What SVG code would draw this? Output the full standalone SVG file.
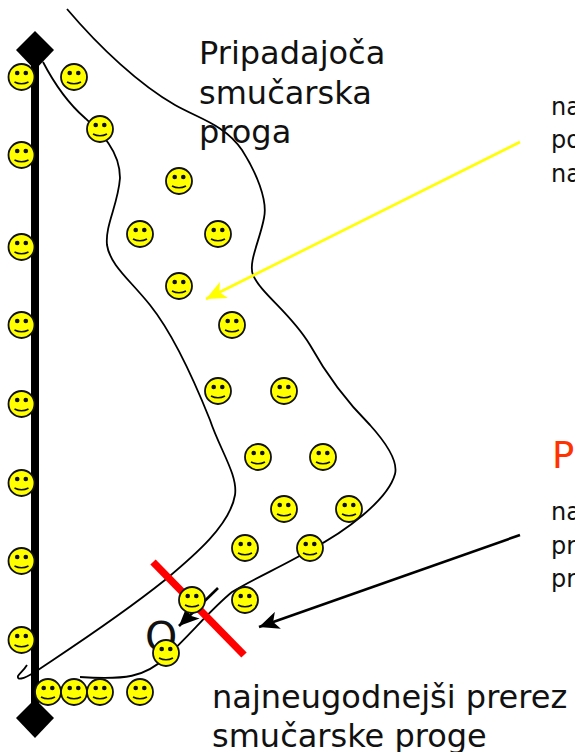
<svg xmlns="http://www.w3.org/2000/svg" xmlns:xlink="http://www.w3.org/1999/xlink" width="575" height="752" viewBox="0 0 575 752">
<style>
.t{font-family:"DejaVu Sans","Verdana",sans-serif;fill:#111}
.l{font-size:32px}
.s{font-size:24px}
.c{fill:none;stroke:#000;stroke-width:1.8}
</style>
<defs>
<g id="smile">
<circle r="13" fill="#ff0" stroke="#111" stroke-width="1.8"/>
<circle cx="-4.3" cy="-4" r="2.3" fill="#111"/>
<circle cx="4.3" cy="-4" r="2.3" fill="#111"/>
<path d="M-7 5Q0 8.5 7 5" fill="none" stroke="#111" stroke-width="1.6"/>
</g>
<marker id="ay" markerUnits="userSpaceOnUse" markerWidth="22" markerHeight="18" refX="20" refY="9" orient="auto"><path d="M0 0L20 9L0 18L5 9Z" fill="#ff0"/></marker>
<marker id="ab" markerUnits="userSpaceOnUse" markerWidth="22" markerHeight="18" refX="20" refY="9" orient="auto"><path d="M0 0L20 9L0 18L5 9Z" fill="#000"/></marker>
</defs>
<rect width="575" height="752" fill="#fff"/>
<g id="connectors">
<path class="c" d="M67 9C100 48 140 85 175 105C200 119 225 125 242 150C256 172 268 200 264 218C260 240 248 262 253 275C262 295 290 312 310 345C325 372 345 400 370 425C388 445 398 462 395 474C388 500 345 532 310 550C285 565 255 578 232 592C210 610 190 635 165 658C145 677 125 680 80 677"/>
<path class="c" d="M43 62C55 85 70 105 85 118C100 132 120 150 120 178C118 205 105 225 107 245C110 265 130 280 150 305C170 330 190 370 210 420C220 450 238 475 235 495C230 525 195 555 165 580C115 620 60 655 35 672C22 680 17 680 18 676C20 673 24 670 27 665"/>
<line x1="218" y1="588" x2="179" y2="626" stroke="#000" stroke-width="2.6" marker-end="url(#ab)"/>
<line x1="520" y1="142" x2="206" y2="299" stroke="#ff0" stroke-width="2.6" marker-end="url(#ay)"/>
<line x1="520" y1="535" x2="259" y2="627" stroke="#000" stroke-width="2.6" marker-end="url(#ab)"/>
</g>
<g id="lift">
<rect x="31" y="50" width="8" height="668" fill="#000"/>
<path d="M35 31L54 50L35 70L16 50Z" fill="#000"/>
<path d="M35 699L54 718L35 738L16 718Z" fill="#000"/>
</g>
<text class="t" x="145" y="651" font-size="41">O</text>
<line id="red-section" x1="153" y1="562" x2="244" y2="655" stroke="#f00" stroke-width="7.5"/>
<g id="skiers">
<use xlink:href="#smile" href="#smile" x="21.5" y="77"/>
<use xlink:href="#smile" href="#smile" x="21.5" y="155"/>
<use xlink:href="#smile" href="#smile" x="21.5" y="247"/>
<use xlink:href="#smile" href="#smile" x="21.5" y="325"/>
<use xlink:href="#smile" href="#smile" x="21.5" y="404"/>
<use xlink:href="#smile" href="#smile" x="21.5" y="483"/>
<use xlink:href="#smile" href="#smile" x="21.5" y="561"/>
<use xlink:href="#smile" href="#smile" x="21.5" y="640"/>
<use xlink:href="#smile" href="#smile" x="74" y="77"/>
<use xlink:href="#smile" href="#smile" x="100" y="129"/>
<use xlink:href="#smile" href="#smile" x="179" y="181"/>
<use xlink:href="#smile" href="#smile" x="140" y="234"/>
<use xlink:href="#smile" href="#smile" x="218" y="234"/>
<use xlink:href="#smile" href="#smile" x="179" y="286"/>
<use xlink:href="#smile" href="#smile" x="232" y="325"/>
<use xlink:href="#smile" href="#smile" x="218" y="391"/>
<use xlink:href="#smile" href="#smile" x="284" y="391"/>
<use xlink:href="#smile" href="#smile" x="258" y="457"/>
<use xlink:href="#smile" href="#smile" x="323" y="457"/>
<use xlink:href="#smile" href="#smile" x="284" y="509"/>
<use xlink:href="#smile" href="#smile" x="349" y="509"/>
<use xlink:href="#smile" href="#smile" x="245" y="548"/>
<use xlink:href="#smile" href="#smile" x="310" y="548"/>
<use xlink:href="#smile" href="#smile" x="192" y="600"/>
<use xlink:href="#smile" href="#smile" x="245" y="600"/>
<use xlink:href="#smile" href="#smile" x="166" y="653"/>
<use xlink:href="#smile" href="#smile" x="48" y="692"/>
<use xlink:href="#smile" href="#smile" x="74" y="692"/>
<use xlink:href="#smile" href="#smile" x="100" y="692"/>
<use xlink:href="#smile" href="#smile" x="140" y="692"/>
</g>
<g id="labels">
<text class="t l" x="199" y="64">Pripadajoča</text>
<text class="t l" x="199" y="104">smučarska</text>
<text class="t l" x="199" y="143">proga</text>
<text class="t s" x="551" y="115">na</text>
<text class="t s" x="551" y="148">po</text>
<text class="t s" x="551" y="182">na</text>
<text class="t" x="552" y="468" font-size="37" style="fill:#f30">P</text>
<text class="t s" x="551" y="520">na</text>
<text class="t s" x="551" y="554">pr</text>
<text class="t s" x="551" y="587">pr</text>
<text class="t l" x="212" y="708">najneugodnejši prerez</text>
<text class="t l" x="212" y="747">smučarske proge</text>
</g>
</svg>
